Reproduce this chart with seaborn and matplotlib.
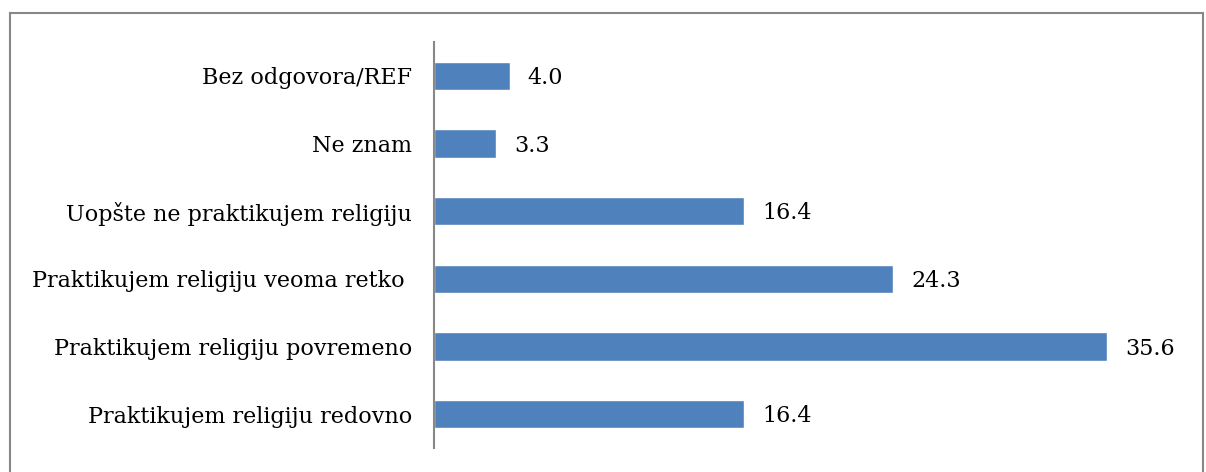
import pandas as pd
import matplotlib
matplotlib.use("Agg")
import matplotlib.pyplot as plt
import seaborn as sns
from matplotlib.patches import Rectangle

categories = [
    "Bez odgovora/REF",
    "Ne znam",
    "Uopšte ne praktikujem religiju",
    "Praktikujem religiju veoma retko ",
    "Praktikujem religiju povremeno",
    "Praktikujem religiju redovno",
]
values = [4.0, 3.3, 16.4, 24.3, 35.6, 16.4]

df = pd.DataFrame({"category": categories, "value": values})

sns.set_theme(style="white")
plt.rcParams["font.family"] = ["DejaVu Serif"]

fig = plt.figure(figsize=(12.06, 4.72), dpi=100)
ax = fig.add_axes([434 / 1206, 24 / 472, 756 / 1206, 406 / 472])

sns.barplot(data=df, x="value", y="category", color="#4F81BD", saturation=1,
            width=0.42, ax=ax)

for i, v in enumerate(values):
    ax.text(v + 0.95, i + 0.03, f"{v:.1f}", va="center", ha="left", fontsize=16, color="black")

ax.set_xlim(0, 40)
ax.set_ylim(5.5, -0.5)
ax.set_xlabel("")
ax.set_ylabel("")
ax.set_xticks([])
ax.tick_params(axis="y", length=0, pad=16, labelsize=16, labelcolor="black")
for s in ["top", "right", "bottom"]:
    ax.spines[s].set_visible(False)
ax.spines["left"].set_color("#888888")
ax.spines["left"].set_linewidth(1.5)

# chart-area border
fig.patches.append(Rectangle((10 / 1206, -0.05), 1193 / 1206, 1.05 - 13 / 472,
                             transform=fig.transFigure, fill=False,
                             edgecolor="#888888", linewidth=1.5))

fig.savefig("out.png", dpi=100)
